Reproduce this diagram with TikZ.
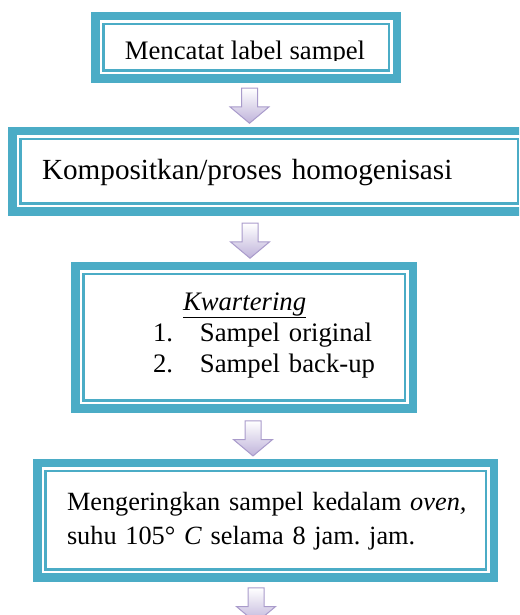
\documentclass[tikz,border=0pt]{standalone}
\usepackage{fontspec}
\setmainfont{Liberation Serif}
\usepackage{tikz}
\usetikzlibrary{shapes.arrows}
\definecolor{FCTeal}{HTML}{4BACC6}
\definecolor{FCLavLine}{HTML}{A99BCB}
\definecolor{FCLav}{HTML}{BFB3DA}
\newcommand{\fcsize}{\fontsize{26.7}{31}\selectfont}
\frenchspacing

\begin{document}
\begin{tikzpicture}[x=1pt,y=1pt,
  framebox/.style={draw=FCTeal,line width=8.5pt,inner sep=0pt,outer sep=0pt,font=\fcsize},
  innerline/.style={draw=FCTeal,line width=2.5pt},
  flowarrow/.style={single arrow,shape border rotate=270,anchor=tail,draw=FCLavLine,line width=1pt,
    top color=white,bottom color=FCLav,minimum height=35pt,minimum width=38pt,
    single arrow head extend=11.5pt,single arrow tip angle=100,inner sep=7.5pt,outer sep=0pt}]
\path[use as bounding box,clip] (0,0) rectangle (519,615);
\node[framebox,minimum width=301.5pt,minimum height=62.5pt] (box1) at (246,567.5) {};
\begin{scope}
\clip (100,554.3) rectangle (392,590);
\node[anchor=base,font=\fcsize,inner sep=0pt] (title) at (245,555) {Mencatat label sampel};
\end{scope}
\node[framebox,minimum width=513.5pt,minimum height=80.5pt,text width=454pt,align=left,
  text height=17pt,text depth=0pt,font=\fontsize{29.2}{35}\selectfont] (box2) at (269,443.5)
  {Kompositkan/proses homogenisasi};
\node[framebox,minimum width=337.5pt,minimum height=142.5pt,text width=288pt,align=left,
  text height=10pt,text depth=64pt] (box3) at (244,277.5)
  {\hspace*{83pt}\underline{\textit{Kwartering}}\\
   \hspace*{53pt}\makebox[47pt][l]{1.}Sampel original\\
   \hspace*{53pt}\makebox[47pt][l]{2.}Sampel back-up};
\node[framebox,minimum width=456.5pt,minimum height=114.5pt,text width=420pt,align=left,
  text height=14pt,text depth=34pt,font=\fontsize{26.3}{34}\selectfont] (box4) at (265.5,94.5)
  {\hspace*{11.5pt}Mengeringkan sampel kedalam \textit{oven,}\\
   \hspace*{11.5pt}suhu 105° \textit{C} selama 8 jam. jam.};
\foreach \b in {box1,box2,box3,box4}
  \draw[innerline] ([shift={(8pt,8pt)}]\b.south west) rectangle ([shift={(-8pt,-8pt)}]\b.north east);
\node[flowarrow] (arr1) at ([xshift=3.5pt,yshift=-9.5pt]box1.south) {};
\node[flowarrow] (arr2) at ([xshift=-19pt,yshift=-11.5pt]box2.south) {};
\node[flowarrow] (arr3) at ([xshift=9pt,yshift=-12.2pt]box3.south) {};
\node[flowarrow] (arr4) at ([xshift=-9.5pt,yshift=-10.2pt]box4.south) {};
\end{tikzpicture}
\end{document}
